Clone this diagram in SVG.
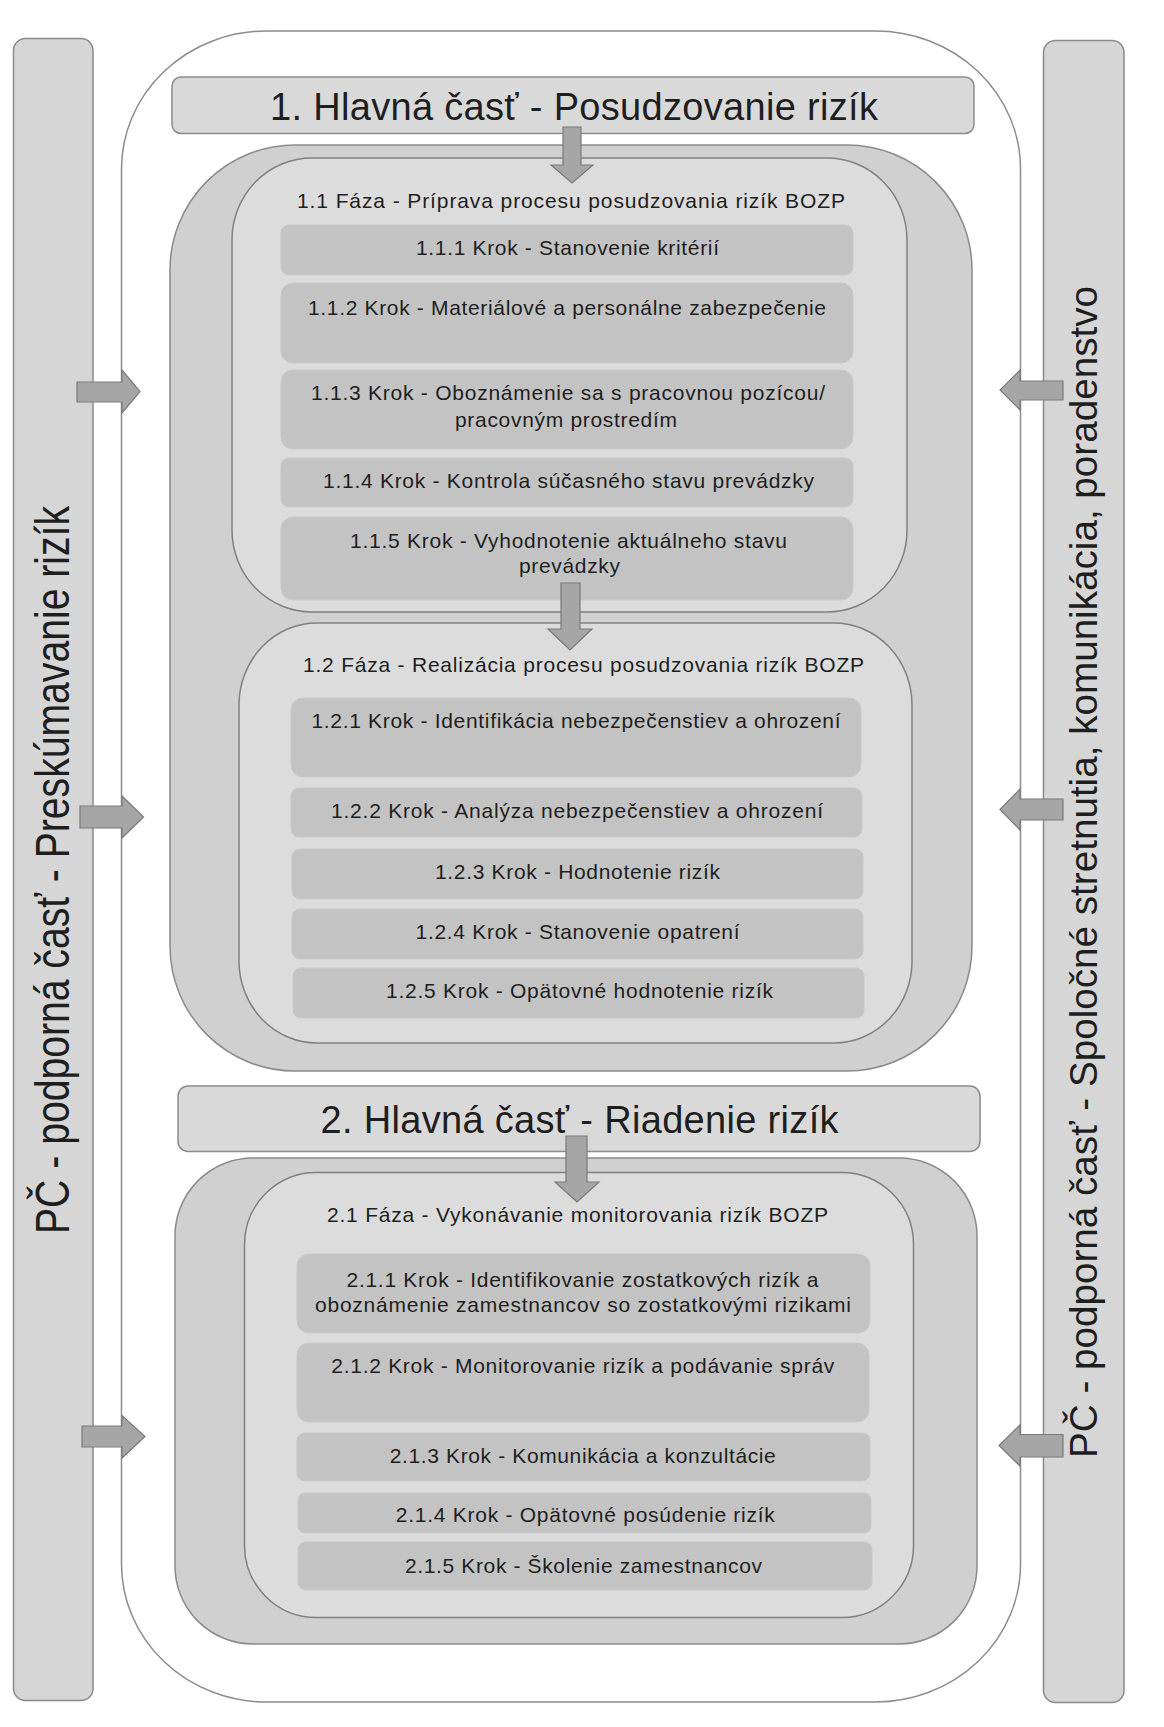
<svg xmlns="http://www.w3.org/2000/svg" width="1164" height="1727" viewBox="0 0 1164 1727">
<style>
  text { font-family: "Liberation Sans", Arial, sans-serif; fill: #1e1e1e; }
  .outer { fill: #ffffff; stroke: #8c8c8c; stroke-width: 1.5; }
  .bar { fill: #d6d6d6; stroke: #8a8a8a; stroke-width: 1.5; }
  .title { fill: #d9d9d9; stroke: #8c8c8c; stroke-width: 1.5; }
  .section { fill: #d0d0d0; stroke: #8a8a8a; stroke-width: 1.5; }
  .phase { fill: #dcdcdc; stroke: #808080; stroke-width: 1.5; }
  .step { fill: #c3c3c3; stroke: #c9c9c9; stroke-width: 1; }
  .arrow { fill: #a6a6a6; stroke: #7a7a7a; stroke-width: 1.2; }
  .t-title { font-size: 38px; text-anchor: middle; }
  .t-phase { font-size: 21px; text-anchor: middle; }
  .t-step { font-size: 21px; text-anchor: middle; }
  .t-side { text-anchor: middle; }
</style>

<rect id="outer" class="outer" x="121.5" y="31" width="899" height="1671" rx="145" ry="138"/>

<g id="left-bar">
  <rect class="bar" x="13.5" y="38.5" width="79.5" height="1662" rx="12" ry="12"/>
  <text class="t-side" transform="translate(69,870) rotate(-90)" font-size="48" textLength="728" lengthAdjust="spacingAndGlyphs">PČ - podporná časť - Preskúmavanie rizík</text>
</g>

<g id="right-bar">
  <rect class="bar" x="1043.5" y="40.5" width="80.5" height="1662" rx="12" ry="12"/>
  <text class="t-side" transform="translate(1097,872) rotate(-90)" font-size="38" textLength="1172" lengthAdjust="spacingAndGlyphs">PČ - podporná časť - Spoločné stretnutia, komunikácia, poradenstvo</text>
</g>

<g id="title1">
  <rect class="title" x="172" y="77" width="802" height="56.5" rx="9" ry="9"/>
  <text class="t-title" x="574" y="120" textLength="608">1. Hlavná časť - Posudzovanie rizík</text>
</g>

<g id="section1">
  <rect class="section" x="170" y="145" width="802" height="926" rx="125" ry="125"/>
</g>

<g id="phase11">
  <rect class="phase" x="232" y="158" width="675" height="454" rx="80" ry="82"/>
  <text class="t-phase" x="571" y="208" textLength="548">1.1 Fáza - Príprava procesu posudzovania rizík BOZP</text>
</g>
<g id="step111">
  <rect class="step" x="281" y="225" width="572" height="50" rx="8"/>
  <text class="t-step" x="567.5" y="255" textLength="303">1.1.1 Krok - Stanovenie kritérií</text>
</g>
<g id="step112">
  <rect class="step" x="281" y="283" width="572" height="80" rx="12"/>
  <text class="t-step" x="567" y="315" textLength="518">1.1.2 Krok - Materiálové a personálne zabezpečenie</text>
</g>
<g id="step113">
  <rect class="step" x="281" y="370" width="572" height="79" rx="12"/>
  <text class="t-step" x="568" y="400" textLength="514">1.1.3 Krok - Oboznámenie sa s pracovnou pozícou/</text>
  <text class="t-step" x="566" y="426.5" textLength="222">pracovným prostredím</text>
</g>
<g id="step114">
  <rect class="step" x="281" y="458" width="572" height="49" rx="8"/>
  <text class="t-step" x="568.5" y="488.3" textLength="491">1.1.4 Krok - Kontrola súčasného stavu prevádzky</text>
</g>
<g id="step115">
  <rect class="step" x="281" y="517" width="572" height="83" rx="12"/>
  <text class="t-step" x="568.5" y="548.3" textLength="437">1.1.5 Krok - Vyhodnotenie aktuálneho stavu</text>
  <text class="t-step" x="569.5" y="573.3" textLength="101">prevádzky</text>
</g>

<g id="phase12">
  <rect class="phase" x="239" y="623" width="673" height="420" rx="78" ry="82"/>
  <text class="t-phase" x="583.5" y="672" textLength="561">1.2 Fáza - Realizácia procesu posudzovania rizík BOZP</text>
</g>
<g id="step121">
  <rect class="step" x="291" y="698" width="570" height="79" rx="12"/>
  <text class="t-step" x="576" y="728.3" textLength="529">1.2.1 Krok - Identifikácia nebezpečenstiev a ohrození</text>
</g>
<g id="step122">
  <rect class="step" x="291" y="788" width="571" height="49" rx="8"/>
  <text class="t-step" x="577" y="818.3" textLength="492">1.2.2 Krok - Analýza nebezpečenstiev a ohrození</text>
</g>
<g id="step123">
  <rect class="step" x="292" y="849" width="571" height="50" rx="8"/>
  <text class="t-step" x="577.5" y="879.3" textLength="285">1.2.3 Krok - Hodnotenie rizík</text>
</g>
<g id="step124">
  <rect class="step" x="292" y="909" width="571" height="50" rx="8"/>
  <text class="t-step" x="577.5" y="939.3" textLength="324">1.2.4 Krok - Stanovenie opatrení</text>
</g>
<g id="step125">
  <rect class="step" x="293" y="968" width="571" height="50" rx="8"/>
  <text class="t-step" x="579.5" y="998.3" textLength="387">1.2.5 Krok - Opätovné hodnotenie rizík</text>
</g>

<g id="title2">
  <rect class="title" x="178" y="1086" width="802" height="65.5" rx="10" ry="10"/>
  <text class="t-title" x="579.5" y="1133.3" textLength="518">2. Hlavná časť - Riadenie rizík</text>
</g>

<g id="section2">
  <rect class="section" x="175" y="1158" width="802" height="486" rx="78" ry="78"/>
</g>

<g id="phase21">
  <rect class="phase" x="244.5" y="1172.5" width="669" height="445" rx="72" ry="72"/>
  <text class="t-phase" x="577.5" y="1221.7" textLength="501">2.1 Fáza - Vykonávanie monitorovania rizík BOZP</text>
</g>
<g id="step211">
  <rect class="step" x="297" y="1254" width="573" height="79" rx="12"/>
  <text class="t-step" x="582.5" y="1286.7" textLength="472">2.1.1 Krok - Identifikovanie zostatkových rizík a</text>
  <text class="t-step" x="583" y="1311.7" textLength="536">oboznámenie zamestnancov so zostatkovými rizikami</text>
</g>
<g id="step212">
  <rect class="step" x="297" y="1343" width="572" height="79" rx="12"/>
  <text class="t-step" x="582.8" y="1373.3" textLength="503">2.1.2 Krok - Monitorovanie rizík a podávanie správ</text>
</g>
<g id="step213">
  <rect class="step" x="297" y="1433" width="573" height="48" rx="8"/>
  <text class="t-step" x="582.8" y="1463.3" textLength="386">2.1.3 Krok - Komunikácia a konzultácie</text>
</g>
<g id="step214">
  <rect class="step" x="298" y="1493" width="573" height="40" rx="7"/>
  <text class="t-step" x="585.3" y="1521.7" textLength="379">2.1.4 Krok - Opätovné posúdenie rizík</text>
</g>
<g id="step215">
  <rect class="step" x="298" y="1542" width="574" height="48" rx="8"/>
  <text class="t-step" x="583.5" y="1572.7" textLength="357">2.1.5 Krok - Školenie zamestnancov</text>
</g>

<g id="connectors">
  <polygon class="arrow" points="563,127 581,127 581,165 593,165 572,183 551,165 563,165"/>
  <polygon class="arrow" points="561,583 580,583 580,629 592,629 570,650 548,629 561,629"/>
  <polygon class="arrow" points="566,1136 587,1136 587,1182 599,1182 577,1202 555,1182 566,1182"/>
  <polygon class="arrow" points="77,382 122,382 122,370 140,391.5 122,413 122,402 77,402"/>
  <polygon class="arrow" points="80,806 122,806 122,796 143.5,817 122,838 122,828 80,828"/>
  <polygon class="arrow" points="82,1426 122,1426 122,1415.5 145,1436.5 122,1458 122,1447 82,1447"/>
  <polygon class="arrow" points="1063,381 1020,381 1020,370 1000,390 1020,410 1020,400 1063,400"/>
  <polygon class="arrow" points="1063,799 1020,799 1020,789 1000,809.5 1020,830 1020,820 1063,820"/>
  <polygon class="arrow" points="1063,1434.5 1020,1434.5 1020,1425 999,1445.5 1020,1466 1020,1457 1063,1457"/>
</g>
</svg>
